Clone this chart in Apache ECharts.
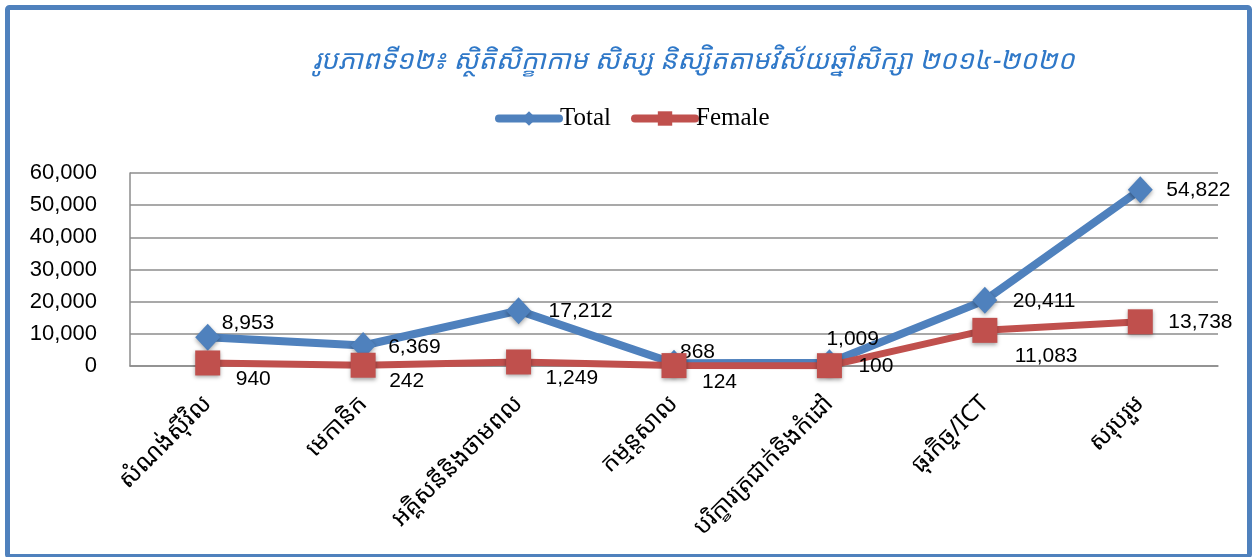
<!DOCTYPE html>
<html>
<head>
<meta charset="utf-8">
<script src="https://cdn.jsdelivr.net/npm/echarts@6/dist/echarts.min.js"></script>
<style>
    html, body { margin: 0; padding: 0; background: #fff; }
    #main { width: 1252px; height: 557px; }
</style>
</head>
<body>
<div id="main"></div>
<script>
    // data
    var categories = [
        'សំណង់ស៊ីវិល',
        'មេកានិក',
        'អគ្គិសនីនិងថាមពល',
        'កម្មន្តសាល',
        'បរិក្ខារត្រជាក់និងកំដៅ',
        'ធុរកិច្ច/ICT',
        'សរុបរួម'
    ];
    var totalValues = [8953, 6369, 17212, 868, 1009, 20411, 54822];
    var femaleValues = [940, 242, 1249, 124, 100, 11083, 13738];

    // where each value label sits, relative to its point
    var totalLabelOffsets = [[14, -14], [25, 2], [30, 1], [6, -11], [-3, -24], [28, 1], [26, 1]];
    var femaleLabelOffsets = [[28, 16], [26, 16], [27, 16], [28, 17], [29, 1], [30, 26], [28, 0]];

    var BLUE = '#4f81bd';
    var RED = '#c0504d';
    var KHMER = '"Khmer OS Siemreap", "Noto Sans Khmer", "Khmer OS", "DejaVu Sans", sans-serif';
    var SANS = '"Liberation Sans", Arial, Helvetica, sans-serif';

    function fmt(v) {
        return String(v).replace(/\B(?=(\d{3})+(?!\d))/g, ',');
    }

    function build_points(values, offsets) {
        return values.map(function(v, i) {
            return {
                value: v,
                label: { offset: offsets[i] }
            };
        });
    }

    var valueLabel = {
        show: true,
        position: 'inside',
        align: 'left',
        verticalAlign: 'middle',
        color: '#000',
        fontFamily: SANS,
        fontSize: 21,
        formatter: function(p) { return fmt(p.value); }
    };

    var chart = echarts.init(document.getElementById('main'), null, { renderer: 'canvas' });

    var option = {
        animation: false,
        backgroundColor: '#fff',
        title: {
            text: 'រូបភាពទី១២៖ ស្ថិតិសិក្ខាកាម សិស្ស និស្សិតតាមវិស័យឆ្នាំសិក្សា ២០១៤-២០២០',
            left: 308,
            top: 43,
            textStyle: {
                color: '#2f78c8',
                fontFamily: KHMER,
                fontStyle: 'italic',
                fontWeight: 'normal',
                fontSize: 27
            }
        },
        legend: {
            top: 101,
            left: 490,
            itemWidth: 60,
            itemHeight: 18,
            itemGap: 20,
            lineStyle: { width: 8, cap: 'round' },
            textStyle: {
                fontFamily: '"Liberation Serif", "Times New Roman", serif',
                fontSize: 25,
                color: '#000',
                padding: [0, 0, 0, -4]
            },
            data: ['Total', 'Female']
        },
        graphic: [{
            type: 'rect',
            shape: { x: 7.5, y: 7.5, width: 1242, height: 549, r: 2 },
            style: { fill: 'none', stroke: BLUE, lineWidth: 5 },
            silent: true,
            z: 100
        }],
        grid: {
            left: 130,
            right: 34,
            top: 173,
            bottom: 191,
            containLabel: false
        },
        xAxis: {
            type: 'category',
            data: categories,
            boundaryGap: true,
            axisLine: { lineStyle: { color: '#8c8c8c', width: 1.5 } },
            axisTick: { show: false },
            axisLabel: {
                rotate: 45,
                margin: 34,
                interval: 0,
                color: '#000',
                fontFamily: KHMER,
                fontSize: 24
            }
        },
        yAxis: {
            type: 'value',
            min: 0,
            max: 60000,
            interval: 10000,
            axisLine: { show: true, lineStyle: { color: '#8c8c8c', width: 1.5 } },
            axisTick: { show: false },
            splitLine: { lineStyle: { color: '#8c8c8c', width: 1.5 } },
            axisLabel: {
                margin: 33,
                color: '#000',
                fontFamily: SANS,
                fontSize: 22,
                formatter: function(v) { return fmt(v); }
            }
        },
        series: [{
            name: 'Total',
            type: 'line',
            data: build_points(totalValues, totalLabelOffsets),
            symbol: 'diamond',
            symbolSize: [25, 27],
            lineStyle: { color: BLUE, width: 8 },
            itemStyle: {
                color: BLUE,
                shadowColor: 'rgba(0,0,0,0.35)',
                shadowBlur: 4,
                shadowOffsetY: 2
            },
            label: valueLabel,
            z: 3
        }, {
            name: 'Female',
            type: 'line',
            data: build_points(femaleValues, femaleLabelOffsets),
            symbol: 'rect',
            symbolSize: 25,
            lineStyle: { color: RED, width: 7 },
            itemStyle: {
                color: RED,
                shadowColor: 'rgba(0,0,0,0.35)',
                shadowBlur: 4,
                shadowOffsetY: 2
            },
            label: valueLabel,
            z: 4
        }]
    };

    chart.setOption(option);
</script>
</body>
</html>
